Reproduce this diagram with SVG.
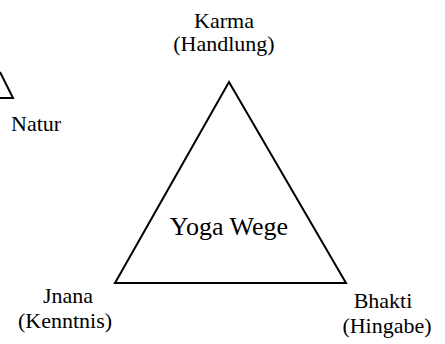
<svg xmlns="http://www.w3.org/2000/svg" width="445" height="344" viewBox="0 0 445 344">
<style>
.t{font-family:"Liberation Serif","Times New Roman",serif;font-size:22px;fill:#000}
.m{text-anchor:middle}
.s{fill:none;stroke:#000;stroke-width:2;stroke-linejoin:miter}
</style>
<rect width="445" height="344" fill="#fff"/>
<g id="connectors">
<path class="s" d="M0 72 L13 98 L0 98"/>
<path class="s" d="M229 82 L115 283 L346 283 Z"/>
</g>
<g id="natur"><text class="t" x="11" y="131">Natur</text></g>
<g id="karma"><text class="t m" x="224" y="28">Karma</text><text class="t m" x="224" y="51">(Handlung)</text></g>
<g id="yoga"><text class="t m" x="229" y="235" style="font-size:26px">Yoga Wege</text></g>
<g id="jnana"><text class="t m" x="68" y="303">Jnana</text><text class="t m" x="65" y="328">(Kenntnis)</text></g>
<g id="bhakti"><text class="t m" x="383" y="308">Bhakti</text><text class="t m" x="387" y="333">(Hingabe)</text></g>
</svg>
